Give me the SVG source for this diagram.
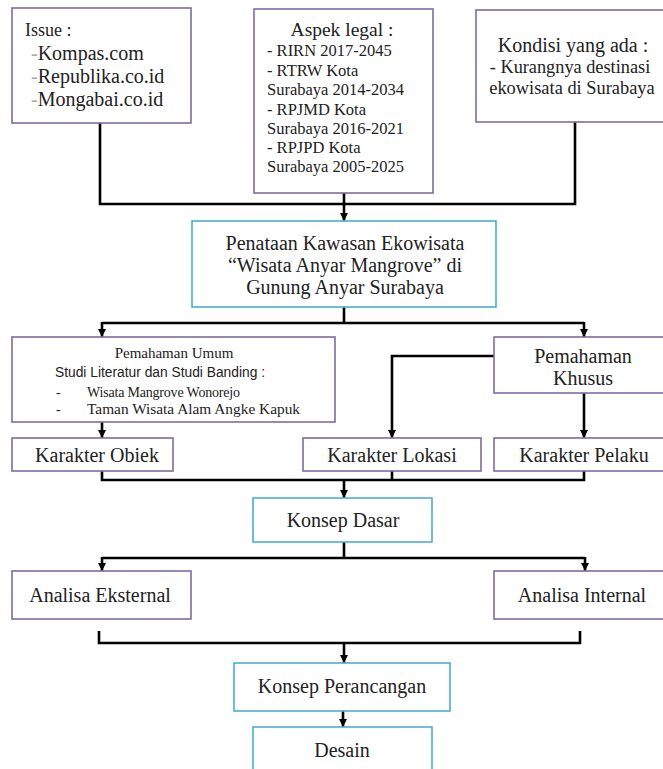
<svg xmlns="http://www.w3.org/2000/svg" width="663" height="769" viewBox="0 0 663 769">
<defs>
<marker id="arr" viewBox="0 0 8 8" refX="8" refY="4" markerWidth="8" markerHeight="8" markerUnits="userSpaceOnUse" orient="auto">
<path d="M0,0 L8,4 L0,8 z" fill="#000"/>
</marker>
<style>
.bp{fill:#fff;stroke:#7d6c9e;stroke-width:1.6}
.bt{fill:#fff;stroke:#4aaed0;stroke-width:1.6}
.t{font-family:"Liberation Serif","Times New Roman",serif;fill:#222}
.s{font-family:"Liberation Sans",Arial,sans-serif;fill:#222}
.c{text-anchor:middle}
.ln{fill:none;stroke:#000;stroke-width:2.6}
.la{fill:none;stroke:#000;stroke-width:2.6;marker-end:url(#arr)}
.dg{fill:#aaa}
</style>
</defs>
<rect width="663" height="769" fill="#fff"/>

<g id="connectors">
<path class="ln" d="M100,123 V204 H575 V122"/>
<path class="la" d="M344,193 V221"/>
<path class="ln" d="M344,307 V323"/>
<path class="ln" d="M102,323 H584"/>
<path class="la" d="M102,322 V337"/>
<path class="la" d="M584,322 V337"/>
<path class="la" d="M102,422 V438"/>
<path class="la" d="M494,356 H392 V438"/>
<path class="la" d="M584,393 V438"/>
<path class="ln" d="M102,471 V480 H584 V471"/>
<path class="ln" d="M392,471 V480"/>
<path class="la" d="M344,480 V498"/>
<path class="ln" d="M344,542 V558"/>
<path class="ln" d="M102,558 H585"/>
<path class="la" d="M102,557 V571"/>
<path class="la" d="M585,557 V571"/>
<path class="ln" d="M99,631 V643 H580 V631"/>
<path class="la" d="M344,643 V663"/>
<path class="la" d="M343,711 V727"/>
</g>

<g id="issue">
<rect class="bp" x="12" y="8" width="179" height="115"/>
<text class="t" x="25" y="36" font-size="18">Issue :</text>
<text class="t" x="31" y="60" font-size="20"><tspan class="dg">-</tspan>Kompas.com</text>
<text class="t" x="31" y="83" font-size="20"><tspan class="dg">-</tspan>Republika.co.id</text>
<text class="t" x="31" y="106" font-size="20"><tspan class="dg">-</tspan>Mongabai.co.id</text>
</g>

<g id="aspek-legal">
<rect class="bp" x="254" y="9" width="179" height="184"/>
<text class="t c" x="342" y="36" font-size="19.5">Aspek legal :</text>
<text class="t" x="267" y="56" font-size="16.5">- RIRN 2017-2045</text>
<text class="t" x="267" y="76" font-size="16.5">- RTRW Kota</text>
<text class="t" x="267" y="95" font-size="16.5">Surabaya 2014-2034</text>
<text class="t" x="267" y="115" font-size="16.5">- RPJMD Kota</text>
<text class="t" x="267" y="134" font-size="16.5">Surabaya 2016-2021</text>
<text class="t" x="267" y="153" font-size="16.5">- RPJPD Kota</text>
<text class="t" x="267" y="172" font-size="16.5">Surabaya 2005-2025</text>
</g>

<g id="kondisi">
<rect class="bp" x="476" y="10" width="200" height="112"/>
<text class="t c" x="573" y="52" font-size="20">Kondisi yang ada :</text>
<text class="t c" x="570" y="73" font-size="18.3">- Kurangnya destinasi</text>
<text class="t c" x="572" y="94" font-size="18.4">ekowisata di Surabaya</text>
</g>

<g id="penataan">
<rect class="bt" x="192" y="221" width="304" height="86"/>
<text class="t c" x="345" y="250" font-size="20">Penataan Kawasan Ekowisata</text>
<text class="t c" x="345" y="272" font-size="20">“Wisata Anyar Mangrove” di</text>
<text class="t c" x="345" y="294" font-size="20">Gunung Anyar Surabaya</text>
</g>

<g id="pemahaman-umum">
<rect class="bp" x="12" y="337" width="323" height="85"/>
<text class="t c" x="174" y="358" font-size="15">Pemahaman Umum</text>
<text class="s" x="55" y="377" font-size="13.8" textLength="210" lengthAdjust="spacingAndGlyphs">Studi Literatur dan Studi Banding :</text>
<text class="t" x="56" y="397" font-size="14">-</text>
<text class="t" x="87" y="397" font-size="14" textLength="153" lengthAdjust="spacing">Wisata Mangrove Wonorejo</text>
<text class="t" x="56" y="414" font-size="14">-</text>
<text class="t" x="87" y="414" font-size="14.8" textLength="213" lengthAdjust="spacingAndGlyphs">Taman Wisata Alam Angke Kapuk</text>
</g>

<g id="pemahaman-khusus">
<rect class="bp" x="494" y="337" width="180" height="56"/>
<text class="t c" x="583" y="363" font-size="20">Pemahaman</text>
<text class="t c" x="583" y="385" font-size="20">Khusus</text>
</g>

<g id="karakter-obiek">
<rect class="bp" x="12" y="438" width="161" height="33"/>
<text class="t c" x="97" y="462" font-size="20">Karakter Obiek</text>
</g>

<g id="karakter-lokasi">
<rect class="bp" x="303" y="438" width="178" height="33"/>
<text class="t c" x="392" y="462" font-size="20">Karakter Lokasi</text>
</g>

<g id="karakter-pelaku">
<rect class="bp" x="494" y="438" width="180" height="33"/>
<text class="t c" x="584" y="462" font-size="20">Karakter Pelaku</text>
</g>

<g id="konsep-dasar">
<rect class="bt" x="253" y="498" width="179" height="44"/>
<text class="t c" x="343" y="527" font-size="20">Konsep Dasar</text>
</g>

<g id="analisa-eksternal">
<rect class="bp" x="12" y="571" width="179" height="48"/>
<text class="t c" x="100" y="602" font-size="20">Analisa Eksternal</text>
</g>

<g id="analisa-internal">
<rect class="bp" x="494" y="571" width="180" height="48"/>
<text class="t c" x="582" y="602" font-size="20">Analisa Internal</text>
</g>

<g id="konsep-perancangan">
<rect class="bt" x="234" y="663" width="216" height="48"/>
<text class="t c" x="342" y="693" font-size="20">Konsep Perancangan</text>
</g>

<g id="desain">
<rect class="bt" x="253" y="727" width="179" height="50"/>
<text class="t c" x="342" y="757" font-size="20">Desain</text>
</g>
</svg>
